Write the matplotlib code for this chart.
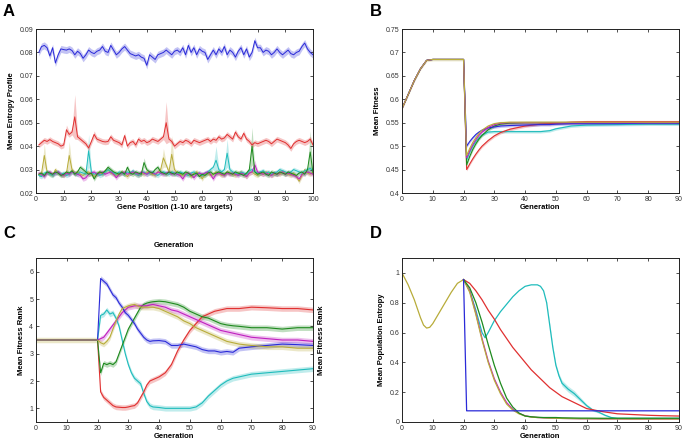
import numpy as np
import matplotlib.pyplot as plt
from matplotlib.ticker import FormatStrFormatter

# ---------------- colours (matlab-ish) ----------------
C_BLUE = '#2a2ad8'
C_RED = '#e03030'
C_GREEN = '#1e8a1e'
C_CYAN = '#1fbcbc'
C_MAG = '#c020c0'
C_OLIVE = '#b8ac3a'

# ---------------- panel A data ----------------
gene_pos = np.arange(1, 101)
a_blue = [0.0800, 0.0825, 0.0830, 0.0820, 0.0785, 0.0820, 0.0755, 0.0790, 0.0815, 0.0812,
          0.0810, 0.0815, 0.0808, 0.0790, 0.0805, 0.0795, 0.0775, 0.0790, 0.0810, 0.0800,
          0.0795, 0.0805, 0.0810, 0.0825, 0.0805, 0.0800, 0.0830, 0.0810, 0.0790, 0.0800,
          0.0815, 0.0825, 0.0810, 0.0795, 0.0790, 0.0785, 0.0790, 0.0780, 0.0775, 0.0745,
          0.0790, 0.0780, 0.0770, 0.0790, 0.0795, 0.0800, 0.0810, 0.0800, 0.0790, 0.0805,
          0.0810, 0.0800, 0.0820, 0.0790, 0.0830, 0.0800, 0.0820, 0.0790, 0.0815, 0.0805,
          0.0800, 0.0770, 0.0790, 0.0810, 0.0790, 0.0815, 0.0800, 0.0825, 0.0790, 0.0810,
          0.0800, 0.0780, 0.0805, 0.0820, 0.0790, 0.0815, 0.0780, 0.0800, 0.0850, 0.0820,
          0.0820, 0.0800, 0.0810, 0.0805, 0.0790, 0.0800, 0.0815, 0.0800, 0.0790, 0.0800,
          0.0810, 0.0795, 0.0790, 0.0800, 0.0805, 0.0825, 0.0840, 0.0815, 0.0800, 0.0790]
a_red = [0.0405, 0.0415, 0.0425, 0.0420, 0.0428, 0.0420, 0.0415, 0.0410, 0.0400, 0.0405,
         0.0470, 0.0450, 0.0460, 0.0525, 0.0440, 0.0430, 0.0420, 0.0410, 0.0392, 0.0420,
         0.0450, 0.0430, 0.0425, 0.0420, 0.0418, 0.0420, 0.0440, 0.0425, 0.0420, 0.0415,
         0.0405, 0.0445, 0.0400, 0.0415, 0.0420, 0.0405, 0.0430, 0.0420, 0.0425, 0.0415,
         0.0420, 0.0430, 0.0425, 0.0420, 0.0430, 0.0440, 0.0500, 0.0430, 0.0420, 0.0400,
         0.0410, 0.0420, 0.0415, 0.0425, 0.0420, 0.0410, 0.0425, 0.0420, 0.0415, 0.0420,
         0.0425, 0.0430, 0.0420, 0.0430, 0.0425, 0.0440, 0.0430, 0.0435, 0.0450, 0.0440,
         0.0430, 0.0460, 0.0440, 0.0430, 0.0455, 0.0430, 0.0420, 0.0405, 0.0415, 0.0410,
         0.0415, 0.0420, 0.0425, 0.0420, 0.0410, 0.0420, 0.0430, 0.0425, 0.0420, 0.0415,
         0.0405, 0.0390, 0.0410, 0.0420, 0.0425, 0.0420, 0.0415, 0.0420, 0.0430, 0.0405]
a_olive = [0.0280, 0.0285, 0.0360, 0.0290, 0.0280, 0.0275, 0.0300, 0.0285, 0.0280, 0.0275,
           0.0285, 0.0360, 0.0300, 0.0285, 0.0290, 0.0280, 0.0275, 0.0285, 0.0290, 0.0280,
           0.0270, 0.0285, 0.0290, 0.0280, 0.0295, 0.0300, 0.0285, 0.0280, 0.0275, 0.0285,
           0.0290, 0.0280, 0.0270, 0.0285, 0.0290, 0.0280, 0.0275, 0.0285, 0.0280, 0.0290,
           0.0285, 0.0280, 0.0275, 0.0290, 0.0300, 0.0350, 0.0320, 0.0290, 0.0365, 0.0300,
           0.0285, 0.0280, 0.0275, 0.0285, 0.0280, 0.0270, 0.0285, 0.0290, 0.0280, 0.0260,
           0.0280, 0.0285, 0.0275, 0.0280, 0.0290, 0.0285, 0.0275, 0.0280, 0.0290, 0.0285,
           0.0280, 0.0275, 0.0285, 0.0290, 0.0280, 0.0270, 0.0285, 0.0290, 0.0280, 0.0275,
           0.0285, 0.0280, 0.0290, 0.0285, 0.0275, 0.0280, 0.0285, 0.0280, 0.0290, 0.0285,
           0.0280, 0.0275, 0.0285, 0.0270, 0.0250, 0.0275, 0.0300, 0.0285, 0.0280, 0.0290]
a_cyan = [0.0275, 0.0270, 0.0285, 0.0290, 0.0280, 0.0275, 0.0285, 0.0290, 0.0280, 0.0285,
          0.0275, 0.0280, 0.0290, 0.0285, 0.0280, 0.0290, 0.0285, 0.0280, 0.0380, 0.0290,
          0.0280, 0.0285, 0.0275, 0.0280, 0.0290, 0.0300, 0.0290, 0.0285, 0.0280, 0.0290,
          0.0285, 0.0280, 0.0290, 0.0285, 0.0295, 0.0280, 0.0275, 0.0285, 0.0290, 0.0280,
          0.0285, 0.0290, 0.0280, 0.0275, 0.0285, 0.0290, 0.0285, 0.0280, 0.0290, 0.0285,
          0.0280, 0.0290, 0.0285, 0.0280, 0.0275, 0.0285, 0.0290, 0.0280, 0.0285, 0.0275,
          0.0285, 0.0290, 0.0300, 0.0310, 0.0340, 0.0300, 0.0290, 0.0300, 0.0370, 0.0300,
          0.0290, 0.0285, 0.0280, 0.0290, 0.0285, 0.0280, 0.0295, 0.0300, 0.0290, 0.0285,
          0.0290, 0.0295, 0.0285, 0.0290, 0.0280, 0.0285, 0.0290, 0.0300, 0.0295, 0.0290,
          0.0285, 0.0290, 0.0300, 0.0295, 0.0290, 0.0285, 0.0295, 0.0300, 0.0305, 0.0295]
a_green = [0.0280, 0.0285, 0.0275, 0.0290, 0.0285, 0.0280, 0.0290, 0.0285, 0.0275, 0.0280,
           0.0290, 0.0285, 0.0295, 0.0280, 0.0290, 0.0310, 0.0300, 0.0290, 0.0280, 0.0285,
           0.0260, 0.0280, 0.0290, 0.0285, 0.0295, 0.0310, 0.0300, 0.0290, 0.0285, 0.0280,
           0.0290, 0.0280, 0.0310, 0.0285, 0.0280, 0.0290, 0.0285, 0.0280, 0.0330, 0.0300,
           0.0290, 0.0285, 0.0300, 0.0310, 0.0290, 0.0285, 0.0280, 0.0290, 0.0285, 0.0280,
           0.0290, 0.0285, 0.0280, 0.0290, 0.0285, 0.0275, 0.0280, 0.0285, 0.0270, 0.0280,
           0.0275, 0.0285, 0.0290, 0.0280, 0.0285, 0.0290, 0.0285, 0.0280, 0.0290, 0.0285,
           0.0280, 0.0290, 0.0285, 0.0280, 0.0275, 0.0285, 0.0300, 0.0400, 0.0290, 0.0280,
           0.0285, 0.0290, 0.0280, 0.0275, 0.0290, 0.0285, 0.0280, 0.0290, 0.0285, 0.0280,
           0.0290, 0.0285, 0.0280, 0.0275, 0.0285, 0.0290, 0.0280, 0.0300, 0.0375, 0.0285]
a_mag = [0.0285, 0.0280, 0.0270, 0.0285, 0.0290, 0.0280, 0.0285, 0.0290, 0.0280, 0.0275,
         0.0285, 0.0280, 0.0290, 0.0285, 0.0280, 0.0275, 0.0260, 0.0265, 0.0280, 0.0285,
         0.0290, 0.0280, 0.0285, 0.0290, 0.0280, 0.0285, 0.0290, 0.0280, 0.0265, 0.0280,
         0.0285, 0.0290, 0.0280, 0.0285, 0.0290, 0.0285, 0.0280, 0.0290, 0.0285, 0.0280,
         0.0290, 0.0285, 0.0280, 0.0290, 0.0285, 0.0280, 0.0285, 0.0290, 0.0280, 0.0285,
         0.0280, 0.0275, 0.0260, 0.0280, 0.0285, 0.0280, 0.0265, 0.0280, 0.0285, 0.0280,
         0.0285, 0.0290, 0.0280, 0.0260, 0.0280, 0.0285, 0.0280, 0.0275, 0.0285, 0.0280,
         0.0285, 0.0280, 0.0275, 0.0285, 0.0280, 0.0270, 0.0285, 0.0290, 0.0320, 0.0290,
         0.0285, 0.0280, 0.0285, 0.0280, 0.0275, 0.0285, 0.0280, 0.0285, 0.0290, 0.0280,
         0.0285, 0.0280, 0.0275, 0.0270, 0.0260, 0.0280, 0.0285, 0.0290, 0.0285, 0.0280]
# band half-widths: base value and wider spots {gene position: half-width}
a_err_base = {'blue': 0.0015, 'red': 0.0012, 'olive': 0.0010, 'cyan': 0.0010,
              'green': 0.0010, 'mag': 0.0010}
a_err_spikes = {'red': {14: 0.0095, 47: 0.0090, 11: 0.0020, 21: 0.0015},
                'olive': {3: 0.005, 12: 0.006, 46: 0.004, 49: 0.008},
                'cyan': {19: 0.007, 65: 0.006, 69: 0.006},
                'green': {78: 0.008, 99: 0.009, 39: 0.002},
                'mag': {79: 0.002}}

# ---------------- panel B data ----------------
b_gen = [0, 2, 4, 6, 8, 10, 15, 20, 21, 22, 23, 24, 25, 26, 28, 30, 32, 35, 40, 45, 48,
         50, 55, 60, 70, 80, 90]
b_pre = [0.580, 0.610, 0.640, 0.665, 0.683, 0.685, 0.685, 0.685]
b_blue = b_pre + [0.500, 0.510, 0.518, 0.525, 0.530, 0.534, 0.539, 0.541, 0.543, 0.544,
                  0.545, 0.546, 0.546, 0.547, 0.548, 0.548, 0.548, 0.549, 0.549]
b_olive = b_pre + [0.480, 0.495, 0.508, 0.518, 0.527, 0.534, 0.543, 0.548, 0.550, 0.551,
                   0.551, 0.551, 0.551, 0.551, 0.551, 0.551, 0.551, 0.551, 0.551]
b_mag = b_pre + [0.475, 0.490, 0.503, 0.514, 0.523, 0.530, 0.540, 0.546, 0.549, 0.550,
                 0.550, 0.550, 0.550, 0.550, 0.550, 0.550, 0.550, 0.550, 0.550]
b_green = b_pre + [0.460, 0.478, 0.493, 0.505, 0.515, 0.523, 0.535, 0.543, 0.547, 0.549,
                   0.550, 0.550, 0.550, 0.550, 0.550, 0.550, 0.550, 0.550, 0.550]
b_red = b_pre + [0.450, 0.462, 0.473, 0.483, 0.492, 0.500, 0.512, 0.522, 0.529, 0.536,
                 0.543, 0.547, 0.548, 0.549, 0.551, 0.552, 0.552, 0.552, 0.552]
b_cyan = b_pre + [0.470, 0.487, 0.500, 0.510, 0.518, 0.524, 0.530, 0.531, 0.531, 0.531,
                  0.531, 0.531, 0.533, 0.537, 0.543, 0.545, 0.546, 0.547, 0.547]
B_PRE_N = len(b_pre)

# ---------------- panel C data ----------------
c_gen = [0, 20, 21, 22, 23, 24, 25, 26, 27, 28, 29, 30, 31, 32, 33, 34, 35, 36, 37, 38,
         40, 42, 44, 46, 48, 50, 52, 54, 56, 58, 60, 62, 64, 66, 70, 75, 80, 85, 90]
c_blue = [3.5, 3.5, 5.75, 5.65, 5.55, 5.35, 5.15, 5.05, 4.85, 4.70, 4.50, 4.40, 4.25,
          4.10, 3.90, 3.75, 3.60, 3.50, 3.45, 3.47, 3.48, 3.45, 3.30, 3.30, 3.35, 3.30,
          3.25, 3.15, 3.10, 3.10, 3.05, 3.08, 3.05, 3.20, 3.25, 3.30, 3.35, 3.33, 3.30]
c_cyan = [3.5, 3.5, 4.40, 4.45, 4.60, 4.45, 4.50, 4.30, 4.00, 3.50, 3.00, 2.60, 2.30,
          2.10, 2.00, 1.90, 1.55, 1.25, 1.10, 1.05, 1.03, 1.00, 1.00, 1.00, 1.00, 1.00,
          1.05, 1.20, 1.45, 1.65, 1.85, 2.00, 2.10, 2.15, 2.25, 2.30, 2.35, 2.40, 2.45]
c_red = [3.5, 3.5, 1.60, 1.40, 1.30, 1.20, 1.10, 1.05, 1.04, 1.03, 1.03, 1.05, 1.08,
         1.10, 1.20, 1.40, 1.60, 1.85, 2.00, 2.05, 2.15, 2.30, 2.60, 3.10, 3.50, 3.85,
         4.10, 4.35, 4.45, 4.55, 4.60, 4.65, 4.65, 4.65, 4.70, 4.68, 4.65, 4.65, 4.60]
c_green = [3.5, 3.5, 2.30, 2.65, 2.60, 2.65, 2.60, 2.70, 3.00, 3.30, 3.60, 3.90, 4.10,
           4.30, 4.50, 4.70, 4.80, 4.85, 4.88, 4.90, 4.92, 4.90, 4.85, 4.80, 4.70, 4.55,
           4.45, 4.35, 4.30, 4.20, 4.10, 4.05, 4.02, 4.00, 3.95, 3.95, 3.90, 3.95, 3.95]
c_mag = [3.5, 3.5, 3.55, 3.60, 3.75, 3.90, 4.05, 4.20, 4.35, 4.50, 4.60, 4.70, 4.72,
         4.75, 4.75, 4.75, 4.75, 4.75, 4.78, 4.80, 4.75, 4.70, 4.60, 4.55, 4.45, 4.35,
         4.25, 4.15, 4.05, 3.95, 3.85, 3.80, 3.75, 3.70, 3.60, 3.55, 3.50, 3.50, 3.45]
c_olive = [3.5, 3.5, 3.40, 3.35, 3.45, 3.60, 3.90, 4.20, 4.45, 4.65, 4.70, 4.75, 4.78,
           4.80, 4.75, 4.70, 4.70, 4.70, 4.70, 4.70, 4.65, 4.55, 4.45, 4.35, 4.20, 4.10,
           3.95, 3.85, 3.75, 3.65, 3.55, 3.45, 3.40, 3.35, 3.30, 3.25, 3.25, 3.20, 3.20]
C_PRE_N = 2  # first points (gen 0-20) shared by all series

# ---------------- panel D data ----------------
d_pre_gen = [0, 2, 4, 6, 7, 8, 9, 10, 12, 14, 16, 18, 20]
d_pre = [1.00, 0.92, 0.82, 0.70, 0.65, 0.63, 0.635, 0.66, 0.73, 0.80, 0.87, 0.93, 0.955]
d_blue_gen = [20, 21, 90]
d_blue = [0.955, 0.075, 0.075]
d_gen = [20, 22, 24, 26, 28, 30, 32, 34, 36, 38, 40, 42, 44, 46, 48, 50, 52, 55, 58, 60,
         65, 70, 75, 80, 85, 90]
d_red = [0.955, 0.93, 0.88, 0.82, 0.75, 0.69, 0.62, 0.56, 0.50, 0.45, 0.40, 0.35, 0.31,
         0.27, 0.23, 0.20, 0.17, 0.14, 0.11, 0.09, 0.07, 0.055, 0.05, 0.045, 0.042, 0.04]
d_green = [0.955, 0.90, 0.80, 0.67, 0.52, 0.38, 0.26, 0.16, 0.10, 0.06, 0.04, 0.035,
           0.032, 0.03, 0.03, 0.03, 0.028, 0.027, 0.026, 0.026, 0.025, 0.025, 0.025,
           0.025, 0.025, 0.025]
d_olive = [0.955, 0.87, 0.72, 0.55, 0.40, 0.28, 0.19, 0.12, 0.08, 0.055, 0.04, 0.033,
           0.03, 0.028, 0.026, 0.025, 0.024, 0.023, 0.022, 0.022, 0.021, 0.021, 0.02,
           0.02, 0.02, 0.02]
d_mag = [0.955, 0.88, 0.73, 0.56, 0.41, 0.29, 0.20, 0.13, 0.085, 0.058, 0.042, 0.034,
         0.03, 0.028, 0.026, 0.025, 0.024, 0.023, 0.022, 0.022, 0.021, 0.021, 0.02,
         0.02, 0.02, 0.02]
d_cyan_gen = [20, 22, 24, 26, 27, 28, 30, 32, 34, 36, 38, 40, 42, 44, 45, 46, 47, 48, 49,
              50, 51, 52, 54, 56, 58, 60, 62, 64, 66, 68, 70, 80, 90]
d_cyan = [0.955, 0.88, 0.75, 0.60, 0.565, 0.60, 0.68, 0.74, 0.79, 0.84, 0.88, 0.91,
          0.92, 0.92, 0.91, 0.88, 0.80, 0.65, 0.50, 0.38, 0.31, 0.26, 0.22, 0.19, 0.15,
          0.11, 0.08, 0.065, 0.045, 0.03, 0.025, 0.025, 0.025]
d_cyan_err = [0.0, 0.0, 0.0, 0.0, 0.0, 0.0, 0.0, 0.0, 0.0, 0.0, 0.0, 0.0, 0.0, 0.0,
              0.0, 0.0, 0.005, 0.01, 0.01, 0.012, 0.015, 0.02, 0.02, 0.02, 0.015, 0.01,
              0.008, 0.006, 0.004, 0.002, 0.0, 0.0, 0.0]

plt.rcParams['font.family'] = ['Liberation Sans', 'DejaVu Sans']
TICK_FS = 5
LAB_FS = 5.5

fig = plt.figure(figsize=(6.86, 4.41), dpi=100)


def style_axes(ax):
    ax.tick_params(direction='in', top=True, right=True, labelsize=TICK_FS,
                   length=2.5, width=0.6, colors='#333333', pad=2)
    for s in ax.spines.values():
        s.set_linewidth(0.7)
        s.set_color('#222222')


def band(ax, x, y, err, color, lw=0.8, alpha=0.28):
    x = np.asarray(x)
    y = np.asarray(y, dtype=float)
    err = np.broadcast_to(np.asarray(err, dtype=float), y.shape)
    ax.fill_between(x, y - err, y + err, color=color, alpha=alpha, lw=0)
    ax.plot(x, y, color=color, lw=lw)


def shared_start_err(n_total, n_pre, e, keep):
    # the shared pre-shift segment only gets one band (from the series drawn on top)
    err = np.full(n_total, e)
    if not keep:
        err[:n_pre] = 0.0
    return err


# ---------- A ----------
axA = fig.add_axes([36 / 686, 1 - 193 / 441, 277 / 686, 164 / 441])
series_a = [('olive', a_olive, C_OLIVE), ('cyan', a_cyan, C_CYAN), ('mag', a_mag, C_MAG),
            ('green', a_green, C_GREEN), ('red', a_red, C_RED), ('blue', a_blue, C_BLUE)]
for key, vals, col in series_a:
    err = np.full(len(gene_pos), a_err_base[key])
    for pos, e in a_err_spikes.get(key, {}).items():
        err[pos - 1] = e
    band(axA, gene_pos, vals, err, col, lw=0.7)
axA.set_xlim(0, 100)
axA.set_ylim(0.02, 0.09)
axA.set_xticks(np.arange(0, 101, 10))
axA.set_yticks(np.arange(0.02, 0.0901, 0.01))
axA.yaxis.set_major_formatter(FormatStrFormatter('%.2f'))
axA.set_xlabel('Gene Position (1-10 are targets)', fontsize=LAB_FS, fontweight='bold', labelpad=1)
axA.set_ylabel('Mean Entropy Profile', fontsize=LAB_FS, fontweight='bold', labelpad=3)
style_axes(axA)

# ---------- B ----------
axB = fig.add_axes([402 / 686, 1 - 193 / 441, 277 / 686, 164 / 441])
b_series = [(b_cyan, C_CYAN), (b_red, C_RED), (b_green, C_GREEN), (b_blue, C_BLUE),
            (b_mag, C_MAG), (b_olive, C_OLIVE)]
for i, (vals, col) in enumerate(b_series):
    err = shared_start_err(len(b_gen), B_PRE_N, 0.003, i == len(b_series) - 1)
    band(axB, b_gen, vals, err, col)
axB.set_xlim(0, 90)
axB.set_ylim(0.4, 0.75)
axB.set_xticks(np.arange(0, 91, 10))
axB.set_yticks(np.arange(0.4, 0.7501, 0.05))
axB.yaxis.set_major_formatter(FormatStrFormatter('%g'))
axB.set_xlabel('Generation', fontsize=LAB_FS, fontweight='bold', labelpad=1)
axB.set_ylabel('Mean Fitness', fontsize=LAB_FS, fontweight='bold', labelpad=3)
style_axes(axB)

# ---------- C ----------
axC = fig.add_axes([36 / 686, 1 - 422 / 441, 277 / 686, 164 / 441])
c_series = [(c_cyan, C_CYAN), (c_red, C_RED), (c_green, C_GREEN), (c_mag, C_MAG),
            (c_blue, C_BLUE), (c_olive, C_OLIVE)]
for i, (vals, col) in enumerate(c_series):
    err = shared_start_err(len(c_gen), C_PRE_N, 0.1, i == len(c_series) - 1)
    band(axC, c_gen, vals, err, col)
axC.set_xlim(0, 90)
axC.set_ylim(0.5, 6.5)
axC.set_xticks(np.arange(0, 91, 10))
axC.set_yticks(np.arange(1, 7))
axC.set_xlabel('Generation', fontsize=LAB_FS, fontweight='bold', labelpad=1)
axC.set_ylabel('Mean Fitness Rank', fontsize=LAB_FS, fontweight='bold', labelpad=3)
axC.set_title('Generation', fontsize=LAB_FS, fontweight='bold', pad=8)
axC.text(1.03, 0.5, 'Mean Fitness Rank', transform=axC.transAxes, rotation=90,
         ha='center', va='center', fontsize=LAB_FS, fontweight='bold')
style_axes(axC)

# ---------- D ----------
axD = fig.add_axes([402 / 686, 1 - 422 / 441, 277 / 686, 164 / 441])
axD.plot(d_pre_gen, d_pre, color=C_OLIVE, lw=0.9)
band(axD, d_cyan_gen, d_cyan, d_cyan_err, C_CYAN, lw=0.9)
axD.plot(d_gen, d_red, color=C_RED, lw=0.9)
axD.plot(d_gen, d_mag, color=C_MAG, lw=0.9)
axD.plot(d_gen, d_olive, color=C_OLIVE, lw=0.9)
axD.plot(d_gen, d_green, color=C_GREEN, lw=0.9)
axD.plot(d_blue_gen, d_blue, color=C_BLUE, lw=0.9)
axD.set_xlim(0, 90)
axD.set_ylim(0, 1.1)
axD.set_xticks(np.arange(0, 91, 10))
axD.set_yticks(np.arange(0, 1.01, 0.2))
axD.yaxis.set_major_formatter(FormatStrFormatter('%g'))
axD.set_xlabel('Generation', fontsize=LAB_FS, fontweight='bold', labelpad=1)
axD.set_ylabel('Mean Population Entropy', fontsize=LAB_FS, fontweight='bold', labelpad=3)
style_axes(axD)

# panel letters
for lab, x, y in [('A', 3, 4), ('B', 370, 4), ('C', 3, 226), ('D', 370, 226)]:
    fig.text(x / 686, 1 - y / 441, lab, fontsize=12, fontweight='bold', va='top', ha='left')

fig.savefig('out.png', dpi=100)
